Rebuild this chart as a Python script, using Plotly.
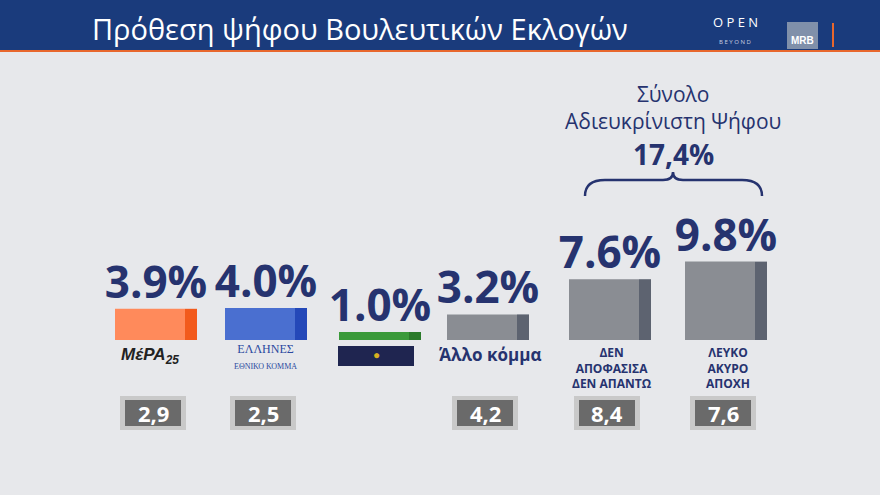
import plotly.graph_objects as go

# chart data
parties = ['ΜέΡΑ25', 'Ελληνες', 'Χρυσή Αυγή', 'Άλλο κόμμα', 'Δεν αποφάσισα', 'Λευκό/Άκυρο/Αποχή']
values = [3.9, 4.0, 1.0, 3.2, 7.6, 9.8]
value_labels = ['3.9%', '4.0%', '1.0%', '3.2%', '7.6%', '9.8%']
previous = ['2,9', '2,5', '', '4,2', '8,4', '7,6']
front_colors = ['#ff8a5b', '#4a6fd0', '#3a9a3a', '#8a8d93', '#8a8d93', '#8a8d93']
side_colors = ['#f25a1c', '#2448b8', '#2a7a2a', '#5d6370', '#5d6370', '#5d6370']
centers = [158, 268, 382, 490, 612, 728]

NAVY = '#26336f'
H = 495


def py(px):
    # pixel from top -> paper y
    return 1 - px / H


fig = go.Figure()
# front face
fig.add_trace(go.Bar(x=[c - 8 for c in centers], y=values, width=70,
                     marker=dict(color=front_colors, line_width=0), hoverinfo='skip'))
# side face
fig.add_trace(go.Bar(x=[c + 33 for c in centers], y=values, width=12,
                     marker=dict(color=side_colors, line_width=0), hoverinfo='skip'))
# value labels
fig.add_trace(go.Scatter(x=[c - 2 for c in centers], y=values, mode='text',
                         text=['<b>' + t + '</b>' for t in value_labels],
                         textposition='top center', cliponaxis=False,
                         textfont=dict(family='Open Sans', size=44, color=NAVY), hoverinfo='skip'))

fig.update_layout(
    width=880, height=495, margin=dict(l=0, r=0, t=0, b=0),
    paper_bgcolor='#e7e8eb', plot_bgcolor='rgba(0,0,0,0)',
    showlegend=False, barmode='overlay',
    xaxis=dict(range=[0, 880], visible=False, fixedrange=True),
    yaxis=dict(range=[-19.375, 42.5], visible=False, fixedrange=True),
)

shapes = []
ann = []


def label(text, x, y, size, color, family='Open Sans', anchor='center'):
    ann.append(dict(text=text, x=x, xref='x', y=py(y), yref='paper', xanchor=anchor, yanchor='middle',
                    showarrow=False, font=dict(family=family, size=size, color=color)))


# header
shapes.append(dict(type='rect', xref='paper', yref='paper', x0=0, x1=1, y0=py(50), y1=1,
                   fillcolor='#1a3b7c', line_width=0, layer='below'))
shapes.append(dict(type='rect', xref='paper', yref='paper', x0=0, x1=1, y0=py(52), y1=py(50),
                   fillcolor='#e8672c', line_width=0))
label('Πρόθεση ψήφου Βουλευτικών Εκλογών', 90, 28, 29, 'white', anchor='left')
label('O P E N', 735, 22, 13, 'white')
label('B E Y O N D', 735, 42, 6, '#c8d0e0')
shapes.append(dict(type='rect', xref='x', yref='paper', x0=787, x1=818, y0=py(49), y1=py(22),
                   fillcolor='#8090aa', line_width=0))
label('<b>MRB</b>', 802, 41, 10, 'white', family='Arial')
shapes.append(dict(type='line', xref='x', yref='paper', x0=833, x1=833, y0=py(47), y1=py(23),
                   line=dict(color='#e8672c', width=2)))

# party labels under bars
label('<i><b>ΜέΡΑ<sub>25</sub></b></i>', 150, 356, 17, '#222222', family='Arial')
label('ΕΛΛΗΝΕΣ<br><span style="font-size:8px">ΕΘΝΙΚΟ ΚΟΜΜΑ</span>', 265, 356, 12, '#2b4aa0',
      family='Liberation Serif')
shapes.append(dict(type='rect', xref='x', yref='paper', x0=338, x1=414, y0=py(366), y1=py(346),
                   fillcolor='#1f2550', line_width=0))
label('●', 376, 354, 12, '#d8b020')
label('<b>Άλλο κόμμα</b>', 490, 354, 17, NAVY)
label('<b>ΔΕΝ<br>ΑΠΟΦΑΣΙΣΑ<br>ΔΕΝ ΑΠΑΝΤΩ</b>', 612, 368, 12, NAVY)
label('<b>ΛΕΥΚΟ<br>ΑΚΥΡΟ<br>ΑΠΟΧΗ</b>', 728, 368, 12, NAVY)

# previous wave boxes
for c, p in zip(centers, previous):
    if not p:
        continue
    shapes.append(dict(type='rect', xref='x', yref='paper', x0=c - 38, x1=c + 28, y0=py(430), y1=py(396),
                       fillcolor='#c9c9c9', line_width=0))
    shapes.append(dict(type='rect', xref='x', yref='paper', x0=c - 33, x1=c + 23, y0=py(426), y1=py(400),
                       fillcolor='#6a6a6a', line_width=0))
    label('<b>' + p + '</b>', c - 5, 413, 22, 'white')

# undecided total with brace
label('Σύνολο<br>Αδιευκρίνιστη Ψήφου', 673, 107, 21, NAVY)
label('<b>17,4%</b>', 673, 154, 28, NAVY)
b0, b1, bm = 585, 762, 673
yb, yt = py(196), py(180)
shapes.append(dict(type='path', xref='x', yref='paper',
                   path=f'M {b0},{yb} Q {b0},{yt} {b0+20},{yt} L {bm-10},{yt} Q {bm},{yt} {bm},{py(172)} '
                        f'Q {bm},{yt} {bm+10},{yt} L {b1-20},{yt} Q {b1},{yt} {b1},{yb}',
                   line=dict(color=NAVY, width=2.5)))

fig.update_layout(shapes=shapes, annotations=ann)
fig.write_html('out.html', config={'displayModeBar': False},
               post_script="document.body.style.margin='0';")
